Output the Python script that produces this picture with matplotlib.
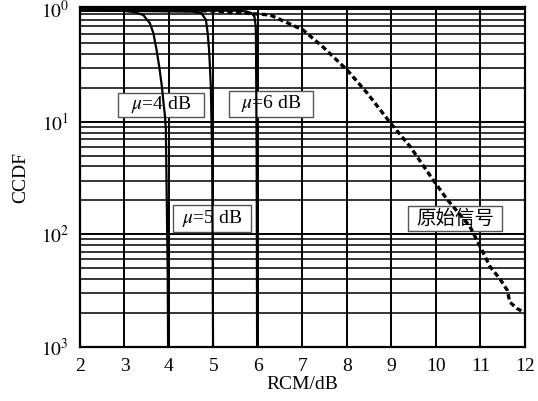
import matplotlib
matplotlib.use("Agg")
import matplotlib.pyplot as plt
from matplotlib.patches import Rectangle
import numpy as np

plt.rcParams['font.family'] = ['Liberation Serif', 'Noto Sans CJK SC']
plt.rcParams['mathtext.fontset'] = 'stix'

# clipped curves, mu = 4, 5, 6 dB
rcm_mu4 = [2.0, 2.9, 3.2, 3.42, 3.57, 3.65, 3.72, 3.78, 3.84, 3.87, 3.91, 3.93,
           3.95, 3.97, 3.98]
ccdf_mu4 = [0.97, 0.966, 0.941, 0.885, 0.747, 0.609, 0.434, 0.308, 0.205, 0.156, 0.111, 0.085,
            0.02, 0.005, 0.001]

rcm_mu5 = [2.0, 4.55, 4.73, 4.83, 4.87, 4.90, 4.92, 4.94, 4.95, 4.97, 4.98, 4.99]
ccdf_mu5 = [0.97, 0.946, 0.916, 0.799, 0.609, 0.434, 0.308, 0.205, 0.128, 0.05, 0.01, 0.001]

rcm_mu6 = [2.0, 5.5, 5.75, 5.86, 5.92, 5.95, 5.955, 5.97, 5.98]
ccdf_mu6 = [0.97, 0.965, 0.95, 0.916, 0.855, 0.697, 0.50, 0.05, 0.001]

# original signal
rcm_orig = [2.0, 5.0, 6.0, 6.27, 7.01, 7.46, 8.0, 8.45, 8.97, 9.42, 9.93, 10.25,
            10.76, 10.99, 11.21, 11.44, 11.6, 11.66, 11.82, 12.0]
ccdf_orig = [0.99, 0.96, 0.90, 0.885, 0.652, 0.46, 0.288, 0.18, 0.098, 0.06, 0.0306, 0.0204,
             0.0118, 0.0078, 0.0052, 0.0040, 0.0032, 0.0025, 0.0022, 0.0020]

x_ticks = [2, 3, 4, 5, 6, 7, 8, 9, 10, 11, 12]
y_ticks = [1e-3, 1e-2, 1e-1, 1e0]
y_labels = [r'$10^{3}$', r'$10^{2}$', r'$10^{1}$', r'$10^{0}$']

# label boxes: text, x0, x1, y0, y1
labels = [r'$\mu$=4 dB', r'$\mu$=6 dB', r'$\mu$=5 dB', '原始信号']
box_x = [(2.854, 4.787), (5.35, 7.24), (4.09, 5.84), (9.37, 11.48)]
box_y = [(0.110, 0.18), (0.110, 0.188), (0.0104, 0.0181), (0.0106, 0.0177)]

fig = plt.figure(figsize=(5.38, 4.01), dpi=100)
ax = fig.add_axes([0.1487, 0.1347, 0.8271, 0.8478])

ax.semilogy(rcm_mu4, ccdf_mu4, color='black', lw=1.6, zorder=4)
ax.semilogy(rcm_mu5, ccdf_mu5, color='black', lw=1.6, zorder=4)
ax.semilogy(rcm_mu6, ccdf_mu6, color='black', lw=1.6, zorder=4)
ax.semilogy(rcm_orig, ccdf_orig, color='black', lw=2.4, ls=(0, (1.6, 1.0)), zorder=4)

ax.set_xlim(2, 12)
ax.set_ylim(1e-3, 1.04)
ax.set_xticks(x_ticks)
ax.set_yticks(y_ticks)
ax.set_yticklabels(y_labels)
ax.yaxis.set_minor_formatter(matplotlib.ticker.NullFormatter())
ax.tick_params(which='both', length=0, labelsize=14)
ax.tick_params(axis='x', pad=8)
ax.tick_params(axis='y', pad=8)
ax.grid(True, which='major', color='black', lw=1.4)
ax.grid(True, which='minor', axis='y', color='black', lw=1.1)
for s in ax.spines.values():
    s.set_linewidth(1.6)

ax.set_xlabel('RCM/dB', fontsize=14, labelpad=1)
ax.set_ylabel('CCDF', fontsize=14, labelpad=8)

for txt, (x0, x1), (y0, y1) in zip(labels, box_x, box_y):
    ax.add_patch(Rectangle((x0, y0), x1 - x0, y1 - y0, fc='white', ec='#555555',
                           lw=1.0, zorder=3))
    ax.text((x0 + x1) / 2, np.sqrt(y0 * y1), txt, fontsize=14, ha='center',
            va='center', zorder=3.5)

fig.savefig('out.png', dpi=100)
